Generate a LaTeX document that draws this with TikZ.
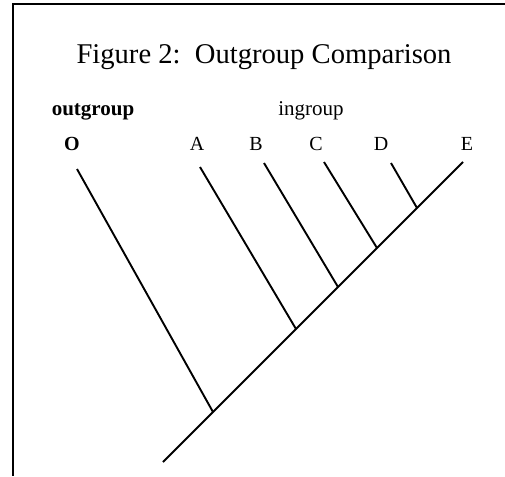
\documentclass[tikz,border=0pt]{standalone}
\usepackage{fontspec}
\setmainfont{Liberation Serif}
\begin{document}
\begin{tikzpicture}[x=1pt, y=-1pt,
  frame/.style={line width=2.2pt, line join=miter},
  branch/.style={line width=1.9pt},
  titlelbl/.style={anchor=base, inner sep=0pt, font=\fontsize{28.6}{34}\selectfont},
  grouplbl/.style={anchor=base, inner sep=0pt, font=\fontsize{21}{25}\selectfont},
  taxon/.style={anchor=base, inner sep=0pt, font=\fontsize{20}{24}\selectfont}
]
  \useasboundingbox (0,0) rectangle (505,476);
  \coordinate (tr) at (505,4);
  \coordinate (tl) at (13,4);
  \coordinate (bl) at (13,476);
  \draw[frame] (tr) -- (tl) -- (bl);

  \node[titlelbl] (title) at (264,64) {Figure 2:\enspace Outgroup Comparison};
  \node[grouplbl] (outlbl) at (93,115) {\textbf{outgroup}};
  \node[grouplbl] (inlbl) at (311,115) {ingroup};

  \node[taxon] (O) at (72,150) {\textbf{O}};
  \node[taxon] (A) at (197,150) {A};
  \node[taxon] (B) at (256,150) {B};
  \node[taxon] (C) at (316,150) {C};
  \node[taxon] (D) at (381,150) {D};
  \node[taxon] (E) at (467,150) {E};

  \coordinate (tipO) at (77,169);
  \coordinate (tipA) at (200,167);
  \coordinate (tipB) at (264,163);
  \coordinate (tipC) at (324,162);
  \coordinate (tipD) at (391,163);
  \coordinate (tipE) at (463,162);

  \coordinate (root) at (163,462);
  \coordinate (jO) at (213,412);
  \coordinate (jA) at (296,329);
  \coordinate (jB) at (338,287);
  \coordinate (jC) at (377,248);
  \coordinate (jD) at (417,208);

  \draw[branch] (root) -- (tipE);
  \foreach \t in {O,A,B,C,D}
    \draw[branch] (tip\t) -- (j\t);
\end{tikzpicture}
\end{document}
